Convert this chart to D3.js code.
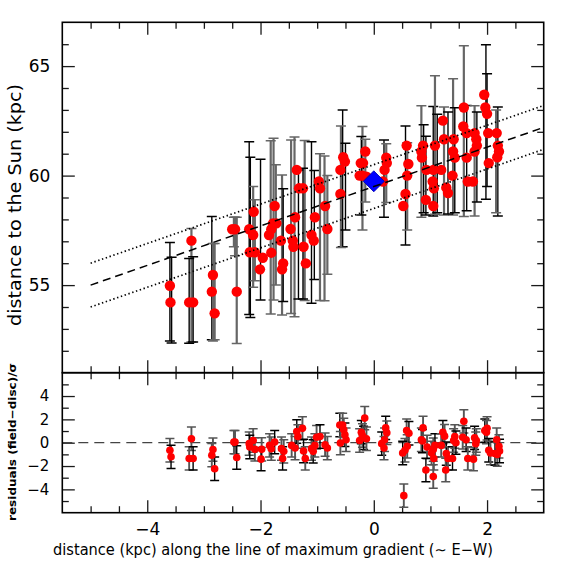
<!DOCTYPE html>
<html>
<head>
<meta charset="utf-8">
<script src="https://cdn.jsdelivr.net/npm/d3@7"></script>
<style>
  html, body { margin: 0; padding: 0; background: #fff; }
  svg { display: block; font-family: "DejaVu Sans", sans-serif; }
</style>
</head>
<body>
<div id="chart"></div>
<script>
// ---- data ----
// distances of the fields (top panel)
const distX = [
  -3.60, -3.59,
  -3.22, -3.26, -3.19,
  -2.84, -2.86, -2.81,
  -2.50, -2.45, -2.42,
  -2.12, -2.20, -2.13, -2.19, -2.10, -1.96, -2.01,
  -1.75, -1.78, -1.72, -1.81, -1.85, -1.81, -1.64, -1.60, -1.62,
  -1.36, -1.32, -1.25, -1.39, -1.47, -1.43, -1.42, -1.24, -1.20,
  -0.97, -0.95, -0.86, -1.04, -1.10, -1.06, -0.82,
  -0.54, -0.51, -0.59, -0.59,
  -0.15, -0.19, -0.23, -0.25, -0.20, -0.13,
  0.22, 0.23, 0.19, 0.16,
  0.58, 0.61, 0.59, 0.56, 0.52,
  0.87, 0.84, 0.85, 0.93, 0.92,
  1.08, 1.05, 1.19, 1.04, 1.06, 1.05,
  1.22, 1.24, 1.41, 1.40, 1.43, 1.39, 1.28, 1.31,
  1.59, 1.58, 1.64, 1.64, 1.78, 1.81, 1.82, 1.78, 1.66, 1.75,
  1.95, 1.97, 2.00, 2.02, 2.17, 2.19, 2.21, 2.18, 2.03
];
const distY = [
  54.97, 54.21,
  57.03, 54.21, 54.21,
  55.46, 54.70, 53.71,
  57.55, 57.55, 54.70,
  58.35, 57.55, 57.29, 56.50, 56.50, 56.25, 55.72,
  58.61, 57.82, 57.82, 57.55, 57.29, 56.48, 57.03, 55.99, 55.72,
  60.26, 59.42, 59.42, 58.10, 57.56, 57.03, 56.75, 56.75, 55.99,
  59.73, 59.42, 58.61, 58.10, 57.29, 57.03, 57.56,
  60.84, 60.64, 60.26, 59.16,
  61.10, 60.57, 60.57, 60.00, 60.00, 59.95,
  60.82, 60.57, 60.26, 59.73,
  61.37, 60.53, 60.00, 59.16, 58.61,
  61.37, 61.10, 60.82, 60.26, 58.89,
  61.37, 60.26, 60.26, 59.73, 59.42, 58.61,
  62.51, 61.66, 61.66, 61.10, 60.82, 60.00, 59.45, 59.20,
  63.11, 62.24, 61.94, 60.82, 61.94, 61.66, 61.37, 61.10, 59.73, 59.73,
  63.69, 63.11, 62.82, 61.94, 61.94, 61.37, 61.10, 60.84, 60.57
];

// error bars of the top panel
const barX = [
  -3.60, -3.57,
  -3.22, -3.26, -3.19,
  -2.86, -2.84, -2.81,
  -2.47, -2.45, -2.42,
  -2.20, -2.18, -2.13, -2.00, -2.10,
  -1.82, -1.77, -1.73, -1.62, -1.60,
  -1.46, -1.40, -1.33, -1.22, -1.25,
  -1.10, -1.05, -0.95, -0.87, -0.82,
  -0.55, -0.58, -0.50,
  -0.20, -0.22, -0.15,
  0.18, 0.22,
  0.56, 0.59,
  0.84, 0.88, 0.92,
  1.05, 1.08, 1.12,
  1.24, 1.40, 1.43, 1.31,
  1.59, 1.64, 1.78, 1.82,
  1.98, 2.00, 2.19, 2.16
];
const barLo = [
  52.45, 52.36,
  52.40, 52.35, 52.40,
  52.50, 52.45, 52.50,
  56.75, 56.34, 52.33,
  53.66, 53.52, 54.90, 54.32, 55.20,
  53.68, 54.32, 55.00, 53.63, 54.25,
  53.70, 53.55, 54.36, 54.30, 54.36,
  54.17, 55.26, 54.30, 54.28, 55.50,
  56.75, 56.72, 57.52,
  57.52, 58.20, 58.80,
  58.10, 58.77,
  56.83, 57.52,
  58.10, 58.30, 58.20,
  58.16, 58.23, 58.30,
  58.20, 58.20, 58.30, 58.25,
  58.13, 58.40, 58.16, 58.80,
  58.92, 59.50, 58.16, 58.30
];
const barHi = [
  56.94, 56.27,
  57.58, 56.22, 56.30,
  58.13, 56.90, 56.90,
  58.10, 58.10, 58.10,
  61.55, 60.84, 59.50, 60.75, 58.90,
  61.59, 61.71, 60.50, 60.03, 59.40,
  61.63, 61.76, 60.26, 61.60, 60.34,
  61.55, 60.23, 61.00, 60.90, 60.00,
  63.00, 62.27, 61.48,
  62.24, 61.78, 61.66,
  61.63, 61.45,
  62.27, 61.50,
  63.19, 62.32, 61.80,
  63.16, 64.56, 62.80,
  63.13, 64.42, 63.10, 62.90,
  65.93, 63.20, 63.19, 62.90,
  65.98, 64.65, 63.13, 63.00
];
const barTone = [
  "k", "k",
  "g", "k", "k",
  "k", "g", "g",
  "g", "g", "g",
  "k", "k", "g", "k", "g",
  "g", "g", "g", "g", "k",
  "g", "g", "k", "g", "k",
  "k", "k", "g", "g", "g",
  "k", "g", "k",
  "g", "k", "g",
  "k", "g",
  "k", "g",
  "g", "k", "k",
  "k", "g", "k",
  "g", "g", "k", "k",
  "g", "k", "g", "k",
  "k", "k", "k", "g"
];

// the Sun-field marker and the disc model with its band
const sunPoint = [0.0, 59.74];
const fitLine = [[-5, 55.0], [3, 62.2]];
const fitUpper = [[-5, 56.0], [3, 63.2]];
const fitLower = [[-5, 54.0], [3, 61.2]];

// residuals (field - disc) / sigma, bottom panel
const resX = [
  -3.60, -3.58, -3.22, -3.26, -3.19, -2.84, -2.86, -2.81, -2.47, -2.45, -2.42,
  -2.20, -2.13, -2.19, -2.10, -1.98, -1.99, -1.84, -1.81, -1.75, -1.63, -1.59, -1.61,
  -1.45, -1.39, -1.36, -1.34, -1.26, -1.24, -1.21, -1.10, -1.07, -1.04, -1.01, -0.95, -0.86, -0.82,
  -0.60, -0.55, -0.53, -0.51, -0.49, -0.59,
  -0.22, -0.16, -0.20, -0.18, -0.25, -0.13,
  0.21, 0.23, 0.19, 0.14, 0.18,
  0.58, 0.62, 0.59, 0.55, 0.51, 0.53,
  0.84, 0.86, 0.87, 0.94, 0.92,
  1.02, 1.05, 1.08, 1.05, 1.06,
  1.22, 1.25, 1.19, 1.28, 1.31, 1.27, 1.39, 1.41, 1.43, 1.45,
  1.59, 1.57, 1.63, 1.66, 1.76, 1.78, 1.81, 1.80,
  1.96, 2.00, 1.99, 2.03, 2.06, 2.17, 2.14, 2.18, 2.21, 2.22
];
const resY = [
  -0.65, -1.21, 0.34, -1.35, -1.35, -0.59, -1.07, -2.23, 0.05, 0.05, -1.27,
  -0.08, 0.19, -0.37, -0.57, -0.57, -1.41, -0.23, -0.51, 0.05, -0.51, -0.74, -1.35,
  -0.23, -0.46, 0.96, 0.53, 1.23, -0.71, -1.35, -0.51, -0.74, -0.23, 0.47, 0.53, -0.17, -0.46,
  1.52, 1.52, 1.10, 0.68, 0.25, -0.03,
  0.90, 2.11, 0.62, 0.42, 0.19, 0.34,
  1.27, 0.85, 0.25, -0.08, -0.46,
  1.04, 0.81, -0.31, -0.65, -0.88, -4.54,
  0.25, 0.14, 1.27, -0.37, -2.34,
  -0.88, -0.59, -0.23, -2.90, -1.35,
  0.90, 0.56, -0.23, -0.93, -1.35, -2.34, -1.35, 0.19, 0.53, 0.00,
  1.83, 0.47, 0.25, -1.35, -1.41, 0.42, 0.19, -0.08,
  1.04, 1.23, 0.90, -0.65, -0.88, 0.25, -0.93, -1.01, -0.31, -0.71
];
const resErr = 1.0;

// axis ticks
const xMajor = [-4, -2, 0, 2];
const xMinor = [-5, -4.5, -3.5, -3, -2.5, -1.5, -1, -0.5, 0.5, 1, 1.5, 2.5];
const yTopMajor = [55, 60, 65];
const yTopMinor = [52, 53, 54, 56, 57, 58, 59, 61, 62, 63, 64, 66];
const yResMajor = [-4, -2, 0, 2, 4];
const yResMinor = [-5, -3, -1, 1, 3, 5];

// ---- layout ----
const width = 574, height = 574;
const frameL = 62.3, frameR = 543.7, frameT = 22.3, frameMid = 372.7, frameB = 512.7;
const tickMajor = 12.5, tickMinor = 6.5;

const svg = d3.select("#chart").append("svg")
  .attr("width", width).attr("height", height)
  .attr("viewBox", `0 0 ${width} ${height}`);

const x = d3.scaleLinear().domain([-5.5, 3]).range([frameL, frameR]);
const yTop = d3.scaleLinear().domain([51, 67]).range([frameMid, frameT]);
const yRes = d3.scaleLinear().domain([-6, 6]).range([frameB, frameMid]);

const minus = (d) => (d < 0 ? "\u2212" + Math.abs(d) : String(d));

const defs = svg.append("defs");
defs.append("clipPath").attr("id", "clipTop").append("rect")
  .attr("x", frameL).attr("y", frameT).attr("width", frameR - frameL).attr("height", frameMid - frameT);
defs.append("clipPath").attr("id", "clipRes").append("rect")
  .attr("x", frameL).attr("y", frameMid).attr("width", frameR - frameL).attr("height", frameB - frameMid);

function tidy(g) {
  g.select(".domain").remove();
  g.attr("font-family", null).attr("font-size", null);
  g.selectAll(".tick line").attr("stroke", "#1a1a1a").attr("stroke-width", 1.3);
  g.selectAll(".tick text").attr("fill", "#000");
}

// inward ticks on every side of a panel
function panelTicks(yScale, y0, y1, yMajor, yMinor) {
  [[xMajor, tickMajor], [xMinor, tickMinor]].forEach(([vals, len]) => {
    svg.append("g").attr("transform", `translate(0,${y1})`)
      .call(d3.axisBottom(x).tickValues(vals).tickSize(-len).tickFormat(""))
      .call(tidy);
    svg.append("g").attr("transform", `translate(0,${y0})`)
      .call(d3.axisTop(x).tickValues(vals).tickSize(-len).tickFormat(""))
      .call(tidy);
  });
  [[yMajor, tickMajor], [yMinor, tickMinor]].forEach(([vals, len]) => {
    svg.append("g").attr("transform", `translate(${frameL},0)`)
      .call(d3.axisLeft(yScale).tickValues(vals).tickSize(-len).tickFormat(""))
      .call(tidy);
    svg.append("g").attr("transform", `translate(${frameR},0)`)
      .call(d3.axisRight(yScale).tickValues(vals).tickSize(-len).tickFormat(""))
      .call(tidy);
  });
}

panelTicks(yTop, frameT, frameMid, yTopMajor, yTopMinor);
panelTicks(yRes, frameMid, frameB, yResMajor, yResMinor);

// tick labels
svg.append("g").attr("transform", `translate(${frameL},0)`)
  .call(d3.axisLeft(yTop).tickValues(yTopMajor).tickSize(0).tickPadding(12).tickFormat(minus))
  .call(tidy)
  .attr("font-size", 17);
svg.append("g").attr("transform", `translate(${frameL},0)`)
  .call(d3.axisLeft(yRes).tickValues(yResMajor).tickSize(0).tickPadding(13).tickFormat(minus))
  .call(tidy)
  .attr("font-size", 15);
svg.append("g").attr("transform", `translate(0,${frameB})`)
  .call(d3.axisBottom(x).tickValues(xMajor).tickSize(0).tickPadding(10).tickFormat(minus))
  .call(tidy)
  .attr("font-size", 17);

// ---- top panel ----
const topG = svg.append("g").attr("clip-path", "url(#clipTop)");
const barIdx = d3.range(barX.length);
const toneColor = (t) => (t === "k" ? "#000" : "#666");
const toneWidth = (t) => (t === "k" ? 1.4 : 2.2);

const bars = topG.append("g").selectAll("g").data(barIdx).enter().append("g")
  .attr("stroke", (i) => toneColor(barTone[i]))
  .attr("stroke-width", (i) => toneWidth(barTone[i]));
bars.append("line")
  .attr("x1", (i) => x(barX[i])).attr("x2", (i) => x(barX[i]))
  .attr("y1", (i) => yTop(barLo[i])).attr("y2", (i) => yTop(barHi[i]));
bars.append("line")
  .attr("x1", (i) => x(barX[i]) - 5).attr("x2", (i) => x(barX[i]) + 5)
  .attr("y1", (i) => yTop(barLo[i])).attr("y2", (i) => yTop(barLo[i]))
  .attr("stroke-width", 1.5);
bars.append("line")
  .attr("x1", (i) => x(barX[i]) - 5).attr("x2", (i) => x(barX[i]) + 5)
  .attr("y1", (i) => yTop(barHi[i])).attr("y2", (i) => yTop(barHi[i]))
  .attr("stroke-width", 1.5);

topG.append("g").selectAll("circle").data(d3.range(distX.length)).enter().append("circle")
  .attr("cx", (i) => x(distX[i]))
  .attr("cy", (i) => yTop(distY[i]))
  .attr("r", 5.2)
  .attr("fill", "#ff0000");

topG.append("path")
  .attr("d", d3.symbol(d3.symbolSquare, 220)())
  .attr("transform", `translate(${x(sunPoint[0])},${yTop(sunPoint[1])}) rotate(45)`)
  .attr("fill", "#0000ff")
  .attr("stroke", "#0000b0")
  .attr("stroke-width", 0.8);

const fit = d3.line().x((d) => x(d[0])).y((d) => yTop(d[1]));
topG.append("path").datum(fitLine).attr("d", fit)
  .attr("fill", "none").attr("stroke", "#000").attr("stroke-width", 1.5)
  .attr("stroke-dasharray", "8,5");
[fitUpper, fitLower].forEach((band) => {
  topG.append("path").datum(band).attr("d", fit)
    .attr("fill", "none").attr("stroke", "#000").attr("stroke-width", 1.7)
    .attr("stroke-dasharray", "1.4,2.6");
});

// ---- residual panel ----
const resG = svg.append("g").attr("clip-path", "url(#clipRes)");
resG.append("line")
  .attr("x1", x(-5.5)).attr("x2", x(3))
  .attr("y1", yRes(0)).attr("y2", yRes(0))
  .attr("stroke", "#444").attr("stroke-width", 1.3)
  .attr("stroke-dasharray", "10,6");

const resIdx = d3.range(resX.length);
const rbars = resG.append("g").selectAll("g").data(resIdx).enter().append("g")
  .attr("stroke", (i) => (i % 3 === 1 ? "#000" : "#555"))
  .attr("stroke-width", (i) => (i % 3 === 1 ? 1.4 : 1.9));
rbars.append("line")
  .attr("x1", (i) => x(resX[i])).attr("x2", (i) => x(resX[i]))
  .attr("y1", (i) => yRes(resY[i] - resErr)).attr("y2", (i) => yRes(resY[i] + resErr));
rbars.append("line")
  .attr("x1", (i) => x(resX[i]) - 4.5).attr("x2", (i) => x(resX[i]) + 4.5)
  .attr("y1", (i) => yRes(resY[i] - resErr)).attr("y2", (i) => yRes(resY[i] - resErr))
  .attr("stroke-width", 1.5);
rbars.append("line")
  .attr("x1", (i) => x(resX[i]) - 4.5).attr("x2", (i) => x(resX[i]) + 4.5)
  .attr("y1", (i) => yRes(resY[i] + resErr)).attr("y2", (i) => yRes(resY[i] + resErr))
  .attr("stroke-width", 1.5);

resG.append("g").selectAll("circle").data(resIdx).enter().append("circle")
  .attr("cx", (i) => x(resX[i]))
  .attr("cy", (i) => yRes(resY[i]))
  .attr("r", 3.8)
  .attr("fill", "#ff0000");

// ---- frames ----
svg.append("rect").attr("x", frameL).attr("y", frameT)
  .attr("width", frameR - frameL).attr("height", frameMid - frameT)
  .attr("fill", "none").attr("stroke", "#000").attr("stroke-width", 1.6);
svg.append("rect").attr("x", frameL).attr("y", frameMid)
  .attr("width", frameR - frameL).attr("height", frameB - frameMid)
  .attr("fill", "none").attr("stroke", "#000").attr("stroke-width", 1.6);

// ---- titles ----
svg.append("text")
  .attr("x", 273).attr("y", 555)
  .attr("text-anchor", "middle")
  .attr("font-size", 15)
  .attr("textLength", 440).attr("lengthAdjust", "spacingAndGlyphs")
  .text("distance (kpc) along the line of maximum gradient (\u223C E\u2212W)");

svg.append("text")
  .attr("transform", "translate(21,205) rotate(-90)")
  .attr("text-anchor", "middle")
  .attr("font-size", 17)
  .attr("textLength", 242).attr("lengthAdjust", "spacingAndGlyphs")
  .text("distance to the Sun (kpc)");

svg.append("text")
  .attr("transform", "translate(16,442) rotate(-90)")
  .attr("text-anchor", "middle")
  .attr("font-size", 11)
  .attr("font-weight", "bold")
  .attr("textLength", 158).attr("lengthAdjust", "spacingAndGlyphs")
  .text("residuals (field\u2212disc)/\u03C3");
</script>
</body>
</html>
